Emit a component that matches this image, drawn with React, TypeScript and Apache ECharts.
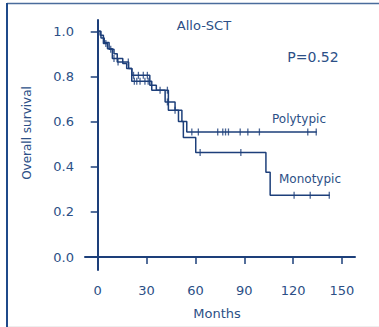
import React, { useEffect, useRef } from "react";
import * as echarts from "echarts";

// Kaplan-Meier step points (time in months, survival after the event)
const polyT = [0, 2, 4, 7, 10, 12, 19, 21, 32, 36, 43.4, 49.6, 54.7, 134.5];
const polyS = [1.0, 0.97, 0.95, 0.92, 0.9, 0.864, 0.835, 0.805, 0.761, 0.739, 0.65, 0.6, 0.554, 0.554];
const monoT = [0, 1.5, 3.5, 6, 9, 15.4, 17.8, 20.9, 33.2, 41.4, 47.5, 51.7, 52.6, 60.2, 103.3, 105.9, 142.5];
const monoS = [1.0, 0.982, 0.946, 0.923, 0.879, 0.857, 0.835, 0.779, 0.739, 0.687, 0.65, 0.6, 0.53, 0.463, 0.375, 0.274, 0.274];

// censored observations (months)
const polyCens = [8, 12.5, 18.8, 22, 25, 28, 30.5, 38.3, 42.8, 57.8, 61.8, 73.7, 76.8, 78.5, 80.3, 87.5, 92.2, 99.3, 129, 134.2];
const monoCens = [5, 10, 22.5, 24, 26, 29, 31, 42.8, 47.5, 62.9, 87.9, 120.6, 130.5, 142.2];

const xTicks = [0, 30, 60, 90, 120, 150];
const yTicks = [0, 0.2, 0.4, 0.6, 0.8, 1.0];

const LINE = "#1d3f7a";
const TEXT = "#2c4f86";
const FONT = "DejaVu Sans";

function survAt(ts: number[], ss: number[], t: number) {
  let s = ss[0];
  for (let i = 0; i < ts.length; i++) if (ts[i] <= t) s = ss[i];
  return s;
}

export default function App() {
  const ref = useRef<HTMLDivElement>(null);
  useEffect(() => {
    if (!ref.current) return;
    const chart = echarts.init(ref.current, undefined, { renderer: "svg" });
    const lineSeries = (ts: number[], ss: number[]) => ({
      type: "line",
      step: "end",
      data: ts.map((t, i) => [t, ss[i]]),
      symbol: "none",
      lineStyle: { color: LINE, width: 1.5 },
      silent: true,
    });
    const censSeries = (cs: number[], ts: number[], ss: number[]) => ({
      type: "scatter",
      data: cs.map((t) => [t, survAt(ts, ss, t)]),
      symbol: "rect",
      symbolSize: [1.3, 7],
      itemStyle: { color: LINE },
      silent: true,
    });
    chart.setOption({
      animation: false,
      grid: { left: 85, right: 24, top: 20, bottom: 57 },
      xAxis: {
        type: "value",
        min: -7.8,
        max: 158,
        axisLine: { show: true, lineStyle: { color: LINE, width: 2 } },
        axisTick: { show: true, customValues: xTicks, length: 7, lineStyle: { color: LINE, width: 1.5 } },
        axisLabel: { customValues: xTicks, color: TEXT, fontSize: 13, fontFamily: FONT, margin: 14 },
        splitLine: { show: false },
      },
      yAxis: {
        type: "value",
        min: -0.0575,
        max: 1.05,
        axisLine: { show: true, lineStyle: { color: LINE, width: 2 } },
        axisTick: { show: true, customValues: yTicks, length: 7, lineStyle: { color: LINE, width: 1.5 } },
        axisLabel: {
          customValues: yTicks,
          color: TEXT,
          fontSize: 13,
          fontFamily: FONT,
          margin: 11,
          formatter: (v: number) => v.toFixed(1),
        },
        splitLine: { show: false },
      },
      series: [
        lineSeries(polyT, polyS),
        lineSeries(monoT, monoS),
        censSeries(polyCens, polyT, polyS),
        censSeries(monoCens, monoT, monoS),
      ],
      graphic: [
        { type: "line", shape: { x1: 7, y1: 3.5, x2: 379, y2: 3.5 }, style: { stroke: "#4a6c9c", lineWidth: 1.5 } },
        { type: "line", shape: { x1: 7, y1: 3, x2: 7, y2: 327 }, style: { stroke: "#1f4a8a", lineWidth: 2 } },
        { type: "line", shape: { x1: 8, y1: 326.5, x2: 379, y2: 326.5 }, style: { stroke: "#eeeeee", lineWidth: 1 } },
        { type: "text", x: 204, y: 25, style: { text: "Allo-SCT", fill: TEXT, font: `13px "${FONT}"`, align: "center", verticalAlign: "middle" } },
        { type: "text", x: 313, y: 57, style: { text: "P=0.52", fill: TEXT, font: `14px "${FONT}"`, align: "center", verticalAlign: "middle" } },
        { type: "text", x: 299, y: 119, style: { text: "Polytypic", fill: TEXT, font: `12px "${FONT}"`, align: "center", verticalAlign: "middle" } },
        { type: "text", x: 310, y: 179, style: { text: "Monotypic", fill: TEXT, font: `12px "${FONT}"`, align: "center", verticalAlign: "middle" } },
        { type: "text", x: 217, y: 313, style: { text: "Months", fill: TEXT, font: `13px "${FONT}"`, align: "center", verticalAlign: "middle" } },
        {
          type: "text",
          x: 27,
          y: 133,
          rotation: Math.PI / 2,
          style: { text: "Overall survival", fill: TEXT, font: `12px "${FONT}"`, align: "center", verticalAlign: "middle" },
        },
      ],
    });
    return () => chart.dispose();
  }, []);
  return <div ref={ref} style={{ position: "fixed", left: 0, top: 0, width: 379, height: 327, background: "#fff" }} />;
}
